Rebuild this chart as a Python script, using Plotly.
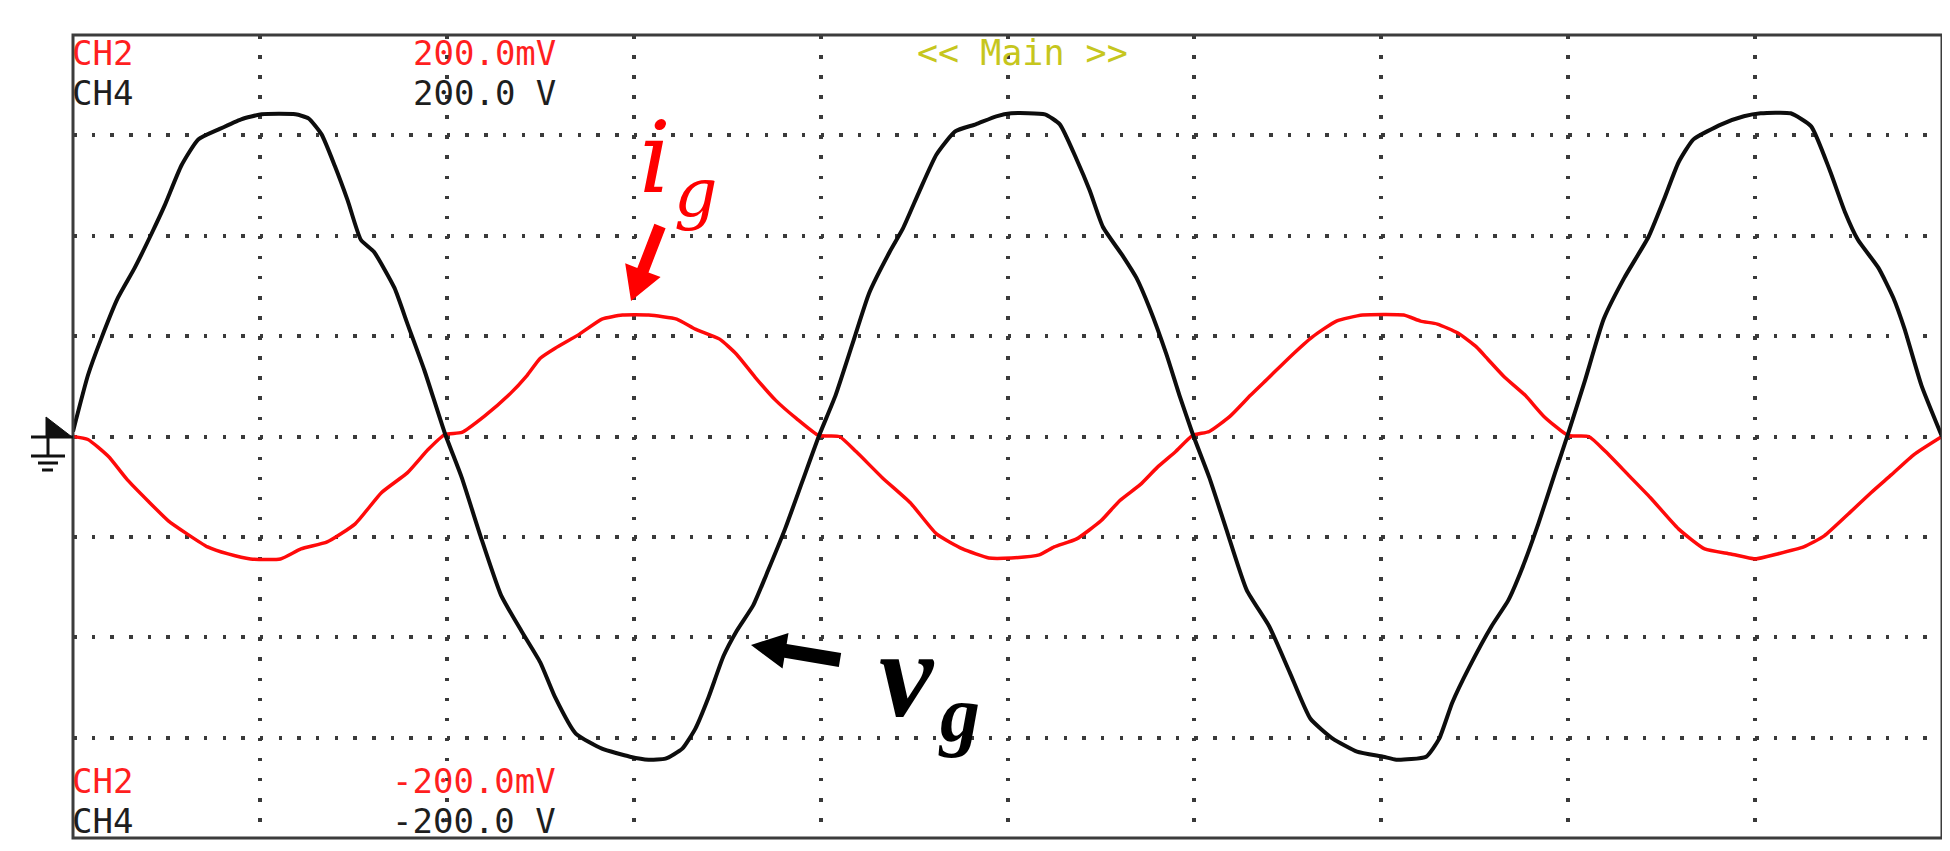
import math
import plotly.graph_objects as go

# screen in divisions: 10 horizontal x 8 vertical, centre line = 0
# CH4 (grid voltage v_g)
vg_t = [0.00, 0.08, 0.15, 0.24, 0.33, 0.42, 0.49, 0.58, 0.67, 0.78, 0.90, 1.01,
        1.19, 1.26, 1.33, 1.40, 1.47, 1.54, 1.61, 1.72, 1.79, 1.88, 1.99, 2.08,
        2.18, 2.29, 2.40, 2.50, 2.58, 2.69, 2.83, 2.98, 3.08, 3.17, 3.26, 3.33,
        3.40, 3.48, 3.55, 3.64, 3.72, 3.81, 3.90, 3.99, 4.08, 4.17, 4.26, 4.37,
        4.44, 4.53, 4.62, 4.72, 4.83, 4.94, 5.02, 5.20, 5.28, 5.37, 5.44, 5.51,
        5.62, 5.69, 5.76, 5.85, 5.92, 5.99, 6.08, 6.17, 6.28, 6.40, 6.51, 6.62,
        6.74, 6.87, 7.01, 7.08, 7.24, 7.31, 7.38, 7.47, 7.59, 7.68, 7.75, 7.84,
        7.93, 8.00, 8.09, 8.19, 8.30, 8.43, 8.51, 8.59, 8.67, 8.82, 8.94, 9.03,
        9.19, 9.30, 9.40, 9.48, 9.55, 9.66, 9.74, 9.80, 9.89, 10.00]
vg_div = [0.05, 0.61, 0.97, 1.38, 1.68, 2.02, 2.30, 2.70, 2.96, 3.06, 3.16, 3.21,
          3.21, 3.17, 3.01, 2.70, 2.35, 1.96, 1.84, 1.48, 1.12, 0.66, 0.03, -0.41,
          -0.99, -1.58, -1.94, -2.25, -2.60, -2.96, -3.11, -3.19, -3.22, -3.21, -3.11, -2.91,
          -2.60, -2.19, -1.94, -1.68, -1.33, -0.92, -0.46, 0.00, 0.41, 0.92, 1.43, 1.84,
          2.07, 2.45, 2.81, 3.04, 3.11, 3.19, 3.22, 3.21, 3.11, 2.76, 2.45, 2.09,
          1.79, 1.58, 1.28, 0.82, 0.41, 0.03, -0.41, -0.92, -1.53, -1.89, -2.35, -2.81,
          -3.01, -3.14, -3.19, -3.22, -3.19, -3.01, -2.65, -2.30, -1.89, -1.63, -1.33, -0.87,
          -0.36, 0.03, 0.56, 1.17, 1.58, 1.99, 2.35, 2.73, 2.96, 3.11, 3.19, 3.22,
          3.22, 3.09, 2.65, 2.24, 1.96, 1.68, 1.38, 1.07, 0.51, 0.00]

# CH2 (grid current i_g)
ig_t = [0.00, 0.08, 0.19, 0.29, 0.40, 0.51, 0.61, 0.72, 0.83, 0.95, 1.11, 1.22,
        1.36, 1.51, 1.65, 1.79, 1.90, 1.99, 2.08, 2.20, 2.33, 2.43, 2.50, 2.58,
        2.71, 2.83, 2.94, 3.08, 3.23, 3.33, 3.46, 3.55, 3.65, 3.76, 3.87, 3.99,
        4.10, 4.19, 4.33, 4.48, 4.62, 4.76, 4.90, 5.02, 5.17, 5.25, 5.37, 5.50,
        5.60, 5.71, 5.80, 5.90, 5.99, 6.08, 6.19, 6.30, 6.40, 6.51, 6.63, 6.76,
        6.90, 7.12, 7.21, 7.30, 7.41, 7.51, 7.57, 7.66, 7.77, 7.87, 8.00, 8.11,
        8.20, 8.32, 8.44, 8.59, 8.73, 8.87, 9.00, 9.12, 9.26, 9.37, 9.50, 9.62,
        9.73, 9.85, 10.00]
ig_div = [0.00, -0.03, -0.20, -0.43, -0.64, -0.84, -0.97, -1.10, -1.17, -1.22, -1.22, -1.12,
          -1.05, -0.87, -0.56, -0.36, -0.13, 0.02, 0.04, 0.20, 0.41, 0.61, 0.78, 0.88,
          1.02, 1.17, 1.21, 1.21, 1.17, 1.07, 0.97, 0.82, 0.59, 0.36, 0.18, 0.01,
          0.00, -0.15, -0.41, -0.66, -0.97, -1.12, -1.21, -1.21, -1.18, -1.10, -1.02, -0.84,
          -0.64, -0.48, -0.31, -0.15, 0.01, 0.05, 0.20, 0.41, 0.59, 0.79, 0.99, 1.15,
          1.21, 1.21, 1.15, 1.12, 1.03, 0.89, 0.77, 0.59, 0.41, 0.20, 0.01, 0.00,
          -0.15, -0.38, -0.61, -0.92, -1.12, -1.17, -1.22, -1.17, -1.10, -0.99, -0.77, -0.56,
          -0.38, -0.18, 0.00]

# scope readouts
top_labels = [("CH2", "200.0mV"), ("CH4", "200.0 V")]
bottom_labels = [("CH2", "-200.0mV"), ("CH4", "-200.0 V")]
label_colors = ["#ff1f1f", "#1e1e1e"]

W, H = 1950, 851
PL, PR, PT, PB = 65, 1934, 27, 830
PW, PH = PR - PL, PB - PT


def px(x):
    return (x - PL) / PW


def py(y):
    return (PB - y) / PH


def arrow_path(tail, tip, shaft_w, head_w, head_len):
    dx, dy = tip[0] - tail[0], tip[1] - tail[1]
    n = math.hypot(dx, dy)
    ux, uy = dx / n, dy / n
    nx, ny = -uy, ux
    bx, by = tip[0] - ux * head_len, tip[1] - uy * head_len
    pts = [
        (tail[0] + nx * shaft_w / 2, tail[1] + ny * shaft_w / 2),
        (bx + nx * shaft_w / 2, by + ny * shaft_w / 2),
        (bx + nx * head_w / 2, by + ny * head_w / 2),
        tip,
        (bx - nx * head_w / 2, by - ny * head_w / 2),
        (bx - nx * shaft_w / 2, by - ny * shaft_w / 2),
        (tail[0] - nx * shaft_w / 2, tail[1] - ny * shaft_w / 2),
    ]
    return "M " + " L ".join(f"{px(a):.5f},{py(b):.5f}" for a, b in pts) + " Z"


fig = go.Figure()
fig.add_trace(go.Scatter(x=ig_t, y=ig_div, mode="lines",
                         line=dict(color="#ff0a0a", width=3.5, shape="spline", smoothing=0.5)))
fig.add_trace(go.Scatter(x=vg_t, y=vg_div, mode="lines",
                         line=dict(color="#0d0d0d", width=4, shape="spline", smoothing=0.5)))

shapes = []
# white patches behind the hand-placed labels
shapes.append(dict(type="rect", xref="paper", yref="paper", layer="between",
                   x0=px(560), x1=px(785), y0=py(215), y1=py(75),
                   fillcolor="white", line=dict(width=0)))
shapes.append(dict(type="rect", xref="paper", yref="paper", layer="between",
                   x0=px(843), x1=px(1010), y0=py(722), y1=py(595),
                   fillcolor="white", line=dict(width=0)))
shapes.append(dict(type="rect", xref="paper", yref="paper", layer="between",
                   x0=px(843), x1=px(1010), y0=py(745), y1=py(722),
                   fillcolor="white", opacity=0.7, line=dict(width=0)))
# frame
shapes.append(dict(type="rect", xref="paper", yref="paper", x0=0, x1=1, y0=0, y1=1,
                   line=dict(color="#3c3c3c", width=3)))
# ground marker
gnd = dict(color="#111111", width=3)
shapes.append(dict(type="line", xref="paper", yref="paper",
                   x0=px(23), x1=px(65), y0=py(429), y1=py(429), line=gnd))
shapes.append(dict(type="path", xref="paper", yref="paper",
                   path=f"M {px(38)},{py(409)} L {px(38)},{py(429)} L {px(64)},{py(429)} Z",
                   fillcolor="#111111", line=dict(color="#111111", width=1)))
shapes.append(dict(type="line", xref="paper", yref="paper",
                   x0=px(40), x1=px(40), y0=py(429), y1=py(448), line=gnd))
for x0, x1, yy in [(23, 57, 448), (30, 50, 455), (34, 45, 462)]:
    shapes.append(dict(type="line", xref="paper", yref="paper",
                       x0=px(x0), x1=px(x1), y0=py(yy), y1=py(yy), line=gnd))
# pointer arrows
shapes.append(dict(type="path", xref="paper", yref="paper",
                   path=arrow_path((652, 218), (623, 293), 12, 38, 33),
                   fillcolor="#ff0000", line=dict(width=0)))
shapes.append(dict(type="path", xref="paper", yref="paper",
                   path=arrow_path((832, 652), (743, 637), 14, 36, 35),
                   fillcolor="#000000", line=dict(width=0)))

mono = "DejaVu Sans Mono"
ann = []
for rows, centres in [(top_labels, [45, 85]), (bottom_labels, [773, 813])]:
    for (ch, sc), col, yc in zip(rows, label_colors, centres):
        ann.append(dict(x=px(63), y=py(yc), text=ch, xanchor="left", yanchor="middle",
                        font=dict(family=mono, size=34, color=col)))
        ann.append(dict(x=px(549), y=py(yc), text=sc, xanchor="right", yanchor="middle",
                        font=dict(family=mono, size=34, color=col)))
ann.append(dict(x=px(1014), y=py(45), text="&lt;&lt; Main &gt;&gt;", xanchor="center",
                yanchor="middle", font=dict(family=mono, size=35, color="#c6c61e")))

# trace names (letter + subscript placed side by side)
ann.append(dict(x=px(664), y=py(150), text="i", xanchor="right", yanchor="middle",
                font=dict(family="DejaVu Serif", size=100, color="#ff0000", style="italic")))
ann.append(dict(x=px(665), y=py(184), text="g", xanchor="left", yanchor="middle",
                font=dict(family="DejaVu Serif", size=68, color="#ff0000", style="italic")))
ann.append(dict(x=px(928), y=py(666), text="v", xanchor="right", yanchor="middle",
                font=dict(family="Liberation Serif", size=122, color="#000000",
                          style="italic", weight="bold")))
ann.append(dict(x=px(929), y=py(706), text="g", xanchor="left", yanchor="middle",
                font=dict(family="Liberation Serif", size=80, color="#000000",
                          style="italic", weight="bold")))
for a in ann:
    a.update(xref="paper", yref="paper", showarrow=False, borderpad=0)

fig.update_layout(
    width=W, height=H,
    margin=dict(l=PL, r=W - PR, t=PT, b=H - PB),
    paper_bgcolor="white", plot_bgcolor="white",
    showlegend=False,
    shapes=shapes, annotations=ann,
    xaxis=dict(range=[0, 10], dtick=1, tick0=0, showticklabels=False, ticks="",
               zeroline=False, showline=False, showgrid=True,
               gridcolor="#3a3a3a", gridwidth=3.5, griddash="3.5px,16.58px"),
    yaxis=dict(range=[-4, 4], dtick=1, tick0=0, showticklabels=False, ticks="",
               zeroline=False, showline=False, showgrid=True,
               gridcolor="#3a3a3a", gridwidth=3.5, griddash="3.5px,15.19px"),
)

fig.write_html("out.html")
